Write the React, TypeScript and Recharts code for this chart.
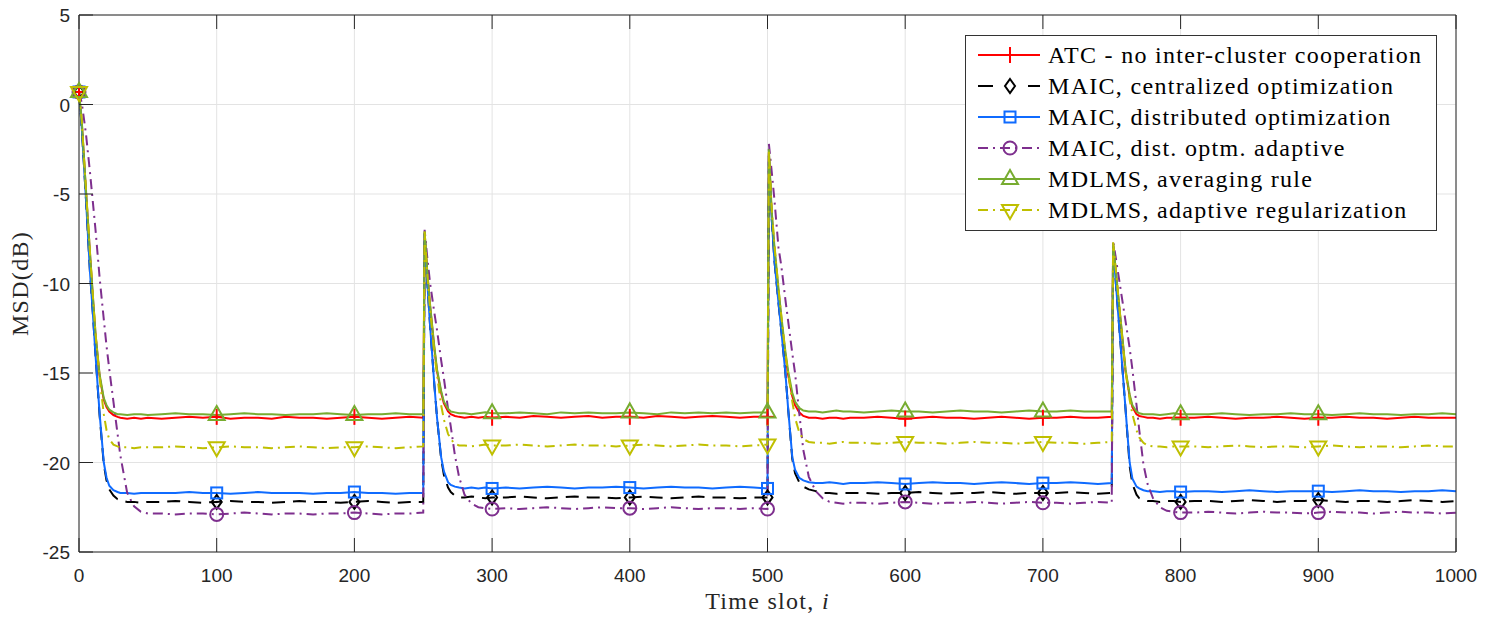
import React from "react";
import { LineChart, Line, XAxis, YAxis, CartesianGrid, Legend, Label } from "recharts";

// sample instants, one list per stage (a network change hits at 250, 500 and 750)
const timeA = [0, 2, 5, 8, 10, 12, 15, 18, 20, 22, 25, 28, 30, 35, 40, 45, 50,
  60, 70, 80, 90, 100, 110, 120, 130, 140, 150, 160, 170, 180, 190, 200, 210, 220, 230, 240, 250];
const timeB = [251, 253, 255, 258, 260, 263, 265, 268, 270, 273, 276, 280, 285, 290, 295, 300,
  310, 320, 330, 340, 350, 360, 370, 380, 390, 400, 410, 420, 430, 440, 450, 460, 470, 480, 490, 500];
const timeC = [501, 503, 505, 508, 510, 513, 515, 518, 520, 523, 526, 530, 535, 540, 545, 550, 555, 560,
  570, 580, 590, 600, 610, 620, 630, 640, 650, 660, 670, 680, 690, 700, 710, 720, 730, 740, 750];
const timeD = [751, 753, 755, 758, 760, 763, 765, 768, 770, 773, 776, 780, 785, 790, 795, 800,
  810, 820, 830, 840, 850, 860, 870, 880, 890, 900, 910, 920, 930, 940, 950, 960, 970, 980, 990, 1000];
const timeSlots = [...timeA, ...timeB, ...timeC, ...timeD];

// MSD in dB
const atcNoCoop = [
  0.7, -1.0, -4.8, -8.4, -10.7, -12.9, -15.2, -16.5, -16.9, -17.15, -17.35, -17.45, -17.5, -17.55, -17.5, -17.55, -17.5,
  -17.55, -17.5, -17.45, -17.5, -17.45, -17.55, -17.5, -17.5, -17.55, -17.45,
  -17.5, -17.5, -17.55, -17.5, -17.45, -17.5, -17.55, -17.5, -17.45, -17.5,
  -7.2, -9.5, -11.3, -13.6, -14.9, -16.1, -16.7, -17.15, -17.3, -17.4, -17.45, -17.5, -17.45, -17.5, -17.45, -17.5,
  -17.45, -17.5, -17.4, -17.45, -17.5, -17.45, -17.4, -17.5, -17.45, -17.45,
  -17.5, -17.4, -17.45, -17.5, -17.45, -17.4, -17.45, -17.5, -17.45, -17.45,
  -2.7, -6.1, -8.1, -10.5, -12.0, -14.0, -15.1, -16.3, -16.8, -17.2, -17.4, -17.5, -17.5, -17.55, -17.5, -17.5, -17.55, -17.5,
  -17.5, -17.45, -17.5, -17.55, -17.5, -17.45, -17.5, -17.5, -17.55, -17.5,
  -17.45, -17.5, -17.55, -17.5, -17.5, -17.45, -17.5, -17.5, -17.45,
  -7.9, -9.4, -11.0, -13.3, -14.9, -16.3, -16.9, -17.3, -17.4, -17.45, -17.5, -17.5, -17.55, -17.5, -17.5, -17.5,
  -17.5, -17.45, -17.5, -17.55, -17.5, -17.5, -17.45, -17.5, -17.55, -17.5,
  -17.5, -17.45, -17.5, -17.5, -17.55, -17.5, -17.45, -17.5, -17.5, -17.5,
];

const maicCentral = [
  0.7, -1.3, -5.2, -9.4, -11.6, -14.0, -17.4, -20.1, -21.0, -21.5, -21.85, -22.05, -22.1, -22.2, -22.2, -22.25, -22.2,
  -22.2, -22.15, -22.2, -22.25, -22.2, -22.15, -22.2, -22.2, -22.25, -22.2,
  -22.15, -22.2, -22.2, -22.25, -22.2, -22.15, -22.2, -22.25, -22.2, -22.2,
  -7.2, -10.0, -12.4, -15.6, -17.5, -19.8, -20.7, -21.4, -21.65, -21.85, -21.95, -21.95, -21.9, -21.95, -22.0, -21.95,
  -21.95, -21.9, -21.95, -22.0, -21.95, -21.9, -21.95, -21.95, -22.0, -21.95,
  -21.9, -21.95, -22.0, -21.95, -21.9, -21.95, -21.95, -22.0, -21.95, -21.95,
  -2.8, -6.3, -8.7, -11.1, -12.6, -15.0, -17.0, -19.8, -20.6, -21.1, -21.35, -21.5, -21.6, -21.7, -21.7, -21.75, -21.7, -21.7,
  -21.7, -21.75, -21.7, -21.7, -21.65, -21.7, -21.75, -21.7, -21.7, -21.65,
  -21.7, -21.75, -21.7, -21.7, -21.7, -21.65, -21.7, -21.75, -21.7,
  -7.9, -10.0, -12.0, -15.0, -17.0, -20.2, -21.2, -21.8, -22.0, -22.1, -22.15, -22.15, -22.2, -22.15, -22.15, -22.2,
  -22.15, -22.15, -22.2, -22.15, -22.1, -22.15, -22.2, -22.15, -22.15, -22.1,
  -22.15, -22.2, -22.15, -22.15, -22.2, -22.15, -22.1, -22.15, -22.2, -22.15,
];

const maicDistributed = [
  0.7, -1.3, -5.2, -9.4, -11.6, -14.0, -17.3, -20.0, -20.85, -21.3, -21.55, -21.65, -21.7, -21.7, -21.75, -21.7, -21.7,
  -21.7, -21.7, -21.65, -21.7, -21.7, -21.75, -21.7, -21.65, -21.7, -21.7,
  -21.7, -21.75, -21.7, -21.7, -21.65, -21.7, -21.7, -21.75, -21.7, -21.7,
  -7.2, -10.0, -12.4, -15.6, -17.5, -19.7, -20.5, -21.1, -21.25, -21.35, -21.4, -21.45, -21.4, -21.45, -21.4, -21.45,
  -21.4, -21.45, -21.4, -21.35, -21.4, -21.45, -21.4, -21.4, -21.35, -21.4,
  -21.45, -21.4, -21.35, -21.4, -21.4, -21.45, -21.4, -21.35, -21.4, -21.45,
  -2.8, -6.3, -8.7, -11.1, -12.6, -15.0, -17.0, -19.7, -20.4, -20.85, -21.0, -21.1, -21.15, -21.15, -21.1, -21.15, -21.2, -21.15,
  -21.15, -21.1, -21.15, -21.2, -21.15, -21.1, -21.15, -21.15, -21.2, -21.15,
  -21.1, -21.15, -21.2, -21.15, -21.15, -21.1, -21.15, -21.2, -21.15,
  -7.9, -10.0, -12.0, -15.0, -17.0, -20.0, -20.9, -21.35, -21.45, -21.55, -21.6, -21.6, -21.65, -21.6, -21.6, -21.65,
  -21.6, -21.6, -21.65, -21.6, -21.55, -21.6, -21.65, -21.6, -21.6, -21.6,
  -21.65, -21.6, -21.55, -21.6, -21.6, -21.65, -21.6, -21.6, -21.55, -21.6,
];

const maicAdaptive = [
  0.7, 0.1, -1.6, -3.8, -5.4, -7.0, -9.7, -12.0, -13.5, -14.8, -16.6, -18.4, -19.6, -21.7, -22.45, -22.75, -22.85,
  -22.85, -22.9, -22.85, -22.85, -22.9, -22.85, -22.8, -22.85, -22.9, -22.85,
  -22.85, -22.9, -22.85, -22.85, -22.8, -22.85, -22.9, -22.85, -22.85, -22.8,
  -7.0, -8.6, -10.0, -11.6, -12.6, -14.3, -15.3, -17.0, -18.0, -19.6, -20.8, -21.8, -22.3, -22.5, -22.55, -22.6,
  -22.55, -22.6, -22.55, -22.5, -22.55, -22.6, -22.55, -22.5, -22.55, -22.55,
  -22.6, -22.55, -22.5, -22.55, -22.6, -22.55, -22.55, -22.6, -22.55, -22.6,
  -2.2, -3.7, -5.3, -8.0, -9.0, -10.9, -12.1, -13.9, -15.0, -17.2, -19.3, -20.8, -21.6, -22.0, -22.2, -22.25, -22.3, -22.25,
  -22.25, -22.3, -22.25, -22.2, -22.25, -22.3, -22.25, -22.25, -22.2, -22.25,
  -22.3, -22.25, -22.2, -22.25, -22.25, -22.3, -22.25, -22.2, -22.25,
  -7.6, -8.6, -9.6, -11.1, -12.1, -13.6, -14.8, -16.8, -18.2, -20.1, -21.2, -22.0, -22.5, -22.7, -22.75, -22.8,
  -22.8, -22.75, -22.8, -22.85, -22.8, -22.75, -22.8, -22.8, -22.85, -22.8,
  -22.75, -22.8, -22.8, -22.85, -22.8, -22.75, -22.8, -22.8, -22.85, -22.8,
];

const mdlmsAveraging = [
  0.7, -0.9, -4.7, -8.3, -10.6, -12.8, -15.1, -16.4, -16.8, -17.05, -17.2, -17.3, -17.3, -17.35, -17.3, -17.3, -17.35,
  -17.3, -17.25, -17.3, -17.3, -17.35, -17.3, -17.25, -17.3, -17.3, -17.35,
  -17.3, -17.3, -17.25, -17.3, -17.35, -17.3, -17.3, -17.25, -17.3, -17.3,
  -7.1, -9.4, -11.2, -13.5, -14.8, -16.0, -16.6, -17.0, -17.15, -17.2, -17.25, -17.25, -17.3, -17.25, -17.2, -17.25,
  -17.25, -17.2, -17.25, -17.3, -17.2, -17.25, -17.2, -17.25, -17.25, -17.2,
  -17.25, -17.3, -17.2, -17.25, -17.2, -17.25, -17.2, -17.25, -17.2, -17.2,
  -2.5, -5.9, -7.9, -10.3, -11.8, -13.8, -14.9, -16.1, -16.6, -16.95, -17.1, -17.15, -17.15, -17.2, -17.15, -17.1, -17.15, -17.15,
  -17.2, -17.15, -17.1, -17.15, -17.15, -17.2, -17.15, -17.1, -17.15, -17.15,
  -17.2, -17.15, -17.1, -17.15, -17.15, -17.1, -17.15, -17.15, -17.15,
  -7.8, -9.3, -10.9, -13.2, -14.8, -16.2, -16.8, -17.15, -17.25, -17.3, -17.3, -17.3, -17.35, -17.3, -17.25, -17.3,
  -17.3, -17.3, -17.25, -17.3, -17.35, -17.3, -17.3, -17.25, -17.3, -17.3,
  -17.35, -17.3, -17.25, -17.3, -17.3, -17.35, -17.3, -17.3, -17.25, -17.3,
];

const mdlmsRegularized = [
  0.7, -0.9, -4.7, -8.3, -10.6, -12.8, -15.3, -17.3, -18.2, -18.7, -19.0, -19.1, -19.15, -19.15, -19.2, -19.15, -19.15,
  -19.15, -19.1, -19.15, -19.2, -19.15, -19.1, -19.15, -19.15, -19.2, -19.15,
  -19.1, -19.15, -19.2, -19.15, -19.15, -19.1, -19.15, -19.2, -19.15, -19.1,
  -7.1, -9.6, -11.5, -13.9, -15.1, -16.8, -17.6, -18.4, -18.7, -18.95, -19.05, -19.05, -19.1, -19.05, -19.0, -19.05,
  -19.05, -19.0, -19.05, -19.1, -19.05, -19.0, -19.05, -19.05, -19.1, -19.05,
  -19.0, -19.05, -19.1, -19.05, -19.0, -19.05, -19.05, -19.1, -19.05, -19.0,
  -2.5, -5.8, -7.8, -10.3, -11.8, -13.9, -15.0, -16.6, -17.5, -18.3, -18.7, -18.85, -18.9, -18.9, -18.95, -18.9, -18.85, -18.9,
  -18.9, -18.95, -18.9, -18.85, -18.9, -18.9, -18.95, -18.9, -18.85, -18.9,
  -18.9, -18.95, -18.9, -18.85, -18.9, -18.9, -18.95, -18.9, -18.85,
  -7.7, -9.3, -10.9, -13.4, -14.9, -16.5, -17.3, -18.2, -18.6, -18.9, -19.05, -19.1, -19.1, -19.15, -19.1, -19.1,
  -19.1, -19.15, -19.1, -19.05, -19.1, -19.15, -19.1, -19.1, -19.15, -19.1,
  -19.05, -19.1, -19.15, -19.1, -19.1, -19.15, -19.1, -19.05, -19.1, -19.1,
];

const xTicks = [0, 100, 200, 300, 400, 500, 600, 700, 800, 900, 1000];
const yTicks = [-25, -20, -15, -10, -5, 0, 5];

const AXIS = "#262626";
const TICK_LEN = 14;
const SERIF = "'Liberation Serif', 'Times New Roman', serif";
const SANS = "'Liberation Sans', Arial, sans-serif";

type MarkerKind = "plus" | "diamond" | "square" | "circle" | "triUp" | "triDown";

interface SeriesDef {
  key: string;
  name: string;
  values: number[];
  color: string;
  dash?: string;
  legendDash?: string;
  marker: MarkerKind;
}

const series: SeriesDef[] = [
  { key: "atc", name: "ATC - no inter-cluster cooperation", values: atcNoCoop, color: "#ff0000", marker: "plus" },
  { key: "central", name: "MAIC, centralized optimization", values: maicCentral, color: "#000000", dash: "13 8", legendDash: "15 35", marker: "diamond" },
  { key: "dist", name: "MAIC, distributed optimization", values: maicDistributed, color: "#0f6bff", marker: "square" },
  { key: "adaptive", name: "MAIC, dist. optm. adaptive", values: maicAdaptive, color: "#7e2f8e", dash: "10 5 2 5", marker: "circle" },
  { key: "avg", name: "MDLMS, averaging rule", values: mdlmsAveraging, color: "#77ac30", marker: "triUp" },
  { key: "reg", name: "MDLMS, adaptive regularization", values: mdlmsRegularized, color: "#bfbf00", dash: "10 5 2 5", marker: "triDown" },
];

const rows = timeSlots.map((t, i) => {
  const row: Record<string, number> = { t };
  series.forEach((s) => {
    row[s.key] = s.values[i];
  });
  return row;
});

function Marker({ kind, cx, cy, color }: { kind: MarkerKind; cx: number; cy: number; color: string }) {
  const common = { fill: "none", stroke: color, strokeWidth: 2 };
  switch (kind) {
    case "plus":
      return (
        <g {...common}>
          <line x1={cx - 7} y1={cy} x2={cx + 7} y2={cy} />
          <line x1={cx} y1={cy - 8} x2={cx} y2={cy + 8} />
        </g>
      );
    case "diamond":
      return <polygon {...common} points={`${cx},${cy - 7} ${cx + 5},${cy} ${cx},${cy + 7} ${cx - 5},${cy}`} />;
    case "square":
      return <rect {...common} x={cx - 5.5} y={cy - 5.5} width={11} height={11} />;
    case "circle":
      return <circle {...common} cx={cx} cy={cy} r={6.5} />;
    case "triUp":
      return <polygon {...common} points={`${cx},${cy - 9} ${cx + 8},${cy + 5} ${cx - 8},${cy + 5}`} />;
    default:
      return <polygon {...common} points={`${cx},${cy + 9} ${cx + 8},${cy - 5} ${cx - 8},${cy - 5}`} />;
  }
}

// markers only every 100 slots, like MarkerIndices
function markerDot(s: SeriesDef) {
  return (p: any) => {
    const k = `${s.key}-${p.index}`;
    const t = p.payload?.t;
    if (t === undefined || t % 100 !== 0 || t >= 1000) return <g key={k} />;
    return (
      <g key={k}>
        <Marker kind={s.marker} cx={p.cx} cy={p.cy} color={s.color} />
      </g>
    );
  };
}

// inward ticks on all four sides, labels outside
function BottomTick(p: any) {
  return (
    <g>
      <line x1={p.x} y1={p.y} x2={p.x} y2={p.y - TICK_LEN} stroke={AXIS} />
      <text x={p.x} y={p.y + 30} textAnchor="middle" fontFamily={SANS} fontSize={19} fill={AXIS}>
        {p.payload.value}
      </text>
    </g>
  );
}

function TopTick(p: any) {
  return <line x1={p.x} y1={p.y} x2={p.x} y2={p.y + TICK_LEN} stroke={AXIS} />;
}

function LeftTick(p: any) {
  return (
    <g>
      <line x1={p.x} y1={p.y} x2={p.x + TICK_LEN} y2={p.y} stroke={AXIS} />
      <text x={p.x - 9} y={p.y + 7} textAnchor="end" fontFamily={SANS} fontSize={19} fill={AXIS}>
        {p.payload.value}
      </text>
    </g>
  );
}

function RightTick(p: any) {
  return <line x1={p.x} y1={p.y} x2={p.x - TICK_LEN} y2={p.y} stroke={AXIS} />;
}

function XTitle(p: any) {
  const vb = p.viewBox;
  return (
    <text x={vb.x + vb.width / 2} y={vb.y + 57} textAnchor="middle" fontFamily={SERIF} fontSize={24} letterSpacing={1.3} fill={AXIS}>
      Time slot, <tspan fontStyle="italic">i</tspan>
    </text>
  );
}

function YTitle(p: any) {
  const vb = p.viewBox;
  const cy = vb.y + vb.height / 2;
  return (
    <text x={28} y={cy} transform={`rotate(-90 28 ${cy})`} textAnchor="middle" fontFamily={SERIF} fontSize={24} letterSpacing={1.3} fill={AXIS}>
      MSD(dB)
    </text>
  );
}

function LegendBox() {
  return (
    <svg width={472} height={196} style={{ display: "block" }}>
      <rect x={0.5} y={0.5} width={471} height={195} fill="#ffffff" stroke="#333333" />
      {series.map((s, i) => {
        const cy = 20 + i * 31;
        return (
          <g key={s.key}>
            <line x1={13} y1={cy} x2={75} y2={cy} stroke={s.color} strokeWidth={2} strokeDasharray={s.legendDash ?? s.dash} />
            <Marker kind={s.marker} cx={45} cy={cy} color={s.color} />
            <text x={83} y={cy + 8} fontFamily={SERIF} fontSize={24} letterSpacing={1.3} fill="#000">
              {s.name}
            </text>
          </g>
        );
      })}
    </svg>
  );
}

export default function App() {
  return (
    <div style={{ position: "absolute", left: 0, top: 0, width: 1488, height: 618, background: "#ffffff" }}>
      <LineChart width={1488} height={618} data={rows} margin={{ top: 0, right: 0, bottom: 0, left: 0 }}>
        <CartesianGrid stroke="#e3e3e3" />
        <XAxis
          dataKey="t"
          type="number"
          domain={[0, 1000]}
          ticks={xTicks}
          interval={0}
          height={66}
          tickSize={0}
          tickMargin={0}
          tick={(p: any) => <BottomTick {...p} />}
          axisLine={{ stroke: AXIS }}
        >
          <Label content={(p: any) => <XTitle {...p} />} />
        </XAxis>
        <XAxis
          xAxisId="top"
          orientation="top"
          dataKey="t"
          type="number"
          domain={[0, 1000]}
          ticks={xTicks}
          interval={0}
          height={15}
          tickSize={0}
          tickMargin={0}
          tick={(p: any) => <TopTick {...p} />}
          axisLine={{ stroke: AXIS }}
        />
        <YAxis
          type="number"
          domain={[-25, 5]}
          ticks={yTicks}
          interval={0}
          width={79}
          tickSize={0}
          tickMargin={0}
          tick={(p: any) => <LeftTick {...p} />}
          axisLine={{ stroke: AXIS }}
        >
          <Label content={(p: any) => <YTitle {...p} />} />
        </YAxis>
        <YAxis
          yAxisId="right"
          orientation="right"
          type="number"
          domain={[-25, 5]}
          ticks={yTicks}
          interval={0}
          width={32}
          tickSize={0}
          tickMargin={0}
          tick={(p: any) => <RightTick {...p} />}
          axisLine={{ stroke: AXIS }}
        />
        {series.map((s) => (
          <Line
            key={s.key}
            type="linear"
            dataKey={s.key}
            name={s.name}
            stroke={s.color}
            strokeWidth={2}
            strokeDasharray={s.dash}
            dot={markerDot(s)}
            activeDot={false}
            isAnimationActive={false}
          />
        ))}
        <Legend
          layout="horizontal"
          verticalAlign="middle"
          align="center"
          wrapperStyle={{ left: 965, top: 35, width: 472, height: 196, margin: 0, padding: 0, lineHeight: 0 }}
          content={() => <LegendBox />}
        />
      </LineChart>
    </div>
  );
}
